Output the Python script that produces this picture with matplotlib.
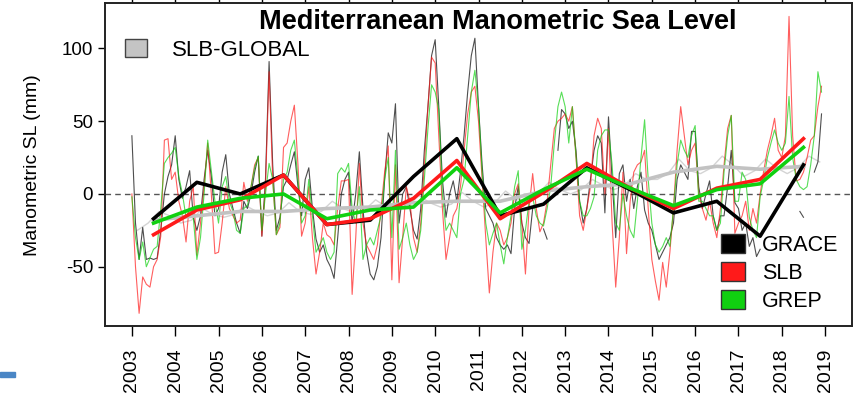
import numpy as np
import matplotlib
matplotlib.use("Agg")
import matplotlib.pyplot as plt
import matplotlib.patches as mpatches

plt.rcParams['font.family'] = ['Liberation Sans', 'DejaVu Sans']
plt.rcParams['axes.unicode_minus'] = False

nan = np.nan

# monthly anomalies (mm), Jan 2003 .. Dec 2018, one row per year
grace_monthly = [
    40, -20, -45, -23, -45, -44, -45, -44, -25, 0, 12, 20,
    40, 10, -3, 5, 16, -16, -25, -15, 10, 30, 12, -15,
    -10, 15, 27, 0, -10, -20, -27, -5, -10, 0, 15, 26,
    -29, 10, 91, 20, -25, -16, 5, 10, 20, 29, 5, -15,
    10, 18, -10, -31, -40, -35, -45, -50, -58, -30, 0, 10,
    15, -20, 0, 29, -10, -40, -55, -59, -50, -30, 10, 42,
    35, 62, -20, 0, 5, -10, -25, -31, -10, 30, 60, 95,
    106, 60, 10, -16, 0, 9, -5, 15, 40, 70, 95, 107,
    60, 20, -10, -15, -20, -30, -35, -38, -35, -41, -10, 5,
    -20, -30, -34, -10, nan, nan, -24, -31, nan, nan, 30, 58,
    55, 45, 50, 30, -5, -20, -10, 10, 30, 40, 35, -13,
    53, 10, -30, 14, 20, -5, 10, -10, 5, 15, -11, -20,
    -25, -35, -45, -40, -35, -30, -20, 10, 20, 15, 10, 43,
    43, 5, -10, 0, 9, -15, -25, -15, -15, 5, 30, -6,
    -10, -25, -20, -36, -30, -43, -38, nan, nan, nan, nan, nan,
    nan, nan, nan, nan, nan, -12, -16, nan, nan, 15, 22, 55,
]

slb_monthly = [
    0, -50, -82, -57, -62, -64, -50, -45, -29, 37, 38, 10,
    15, -5, -15, -33, -5, 5, -42, -20, 5, 35, 0, -41,
    -40, -20, 5, -10, -15, -20, -18, 8, -5, 5, 20, 25,
    -29, 5, 84, 10, -28, -23, 32, 35, 50, 61, 20, -29,
    -20, 5, -30, -55, -40, -20, -28, -30, -35, -10, 9, 9,
    10, -69, -30, 21, -20, -35, -40, -45, -35, -10, 15, 33,
    -59, 20, -61, -30, 5, -5, -30, -40, -20, 20, 60, 94,
    90, 40, -10, -45, -30, -15, -10, 5, 30, 55, 70, 74,
    50, 10, -30, -68, -40, -20, -25, -35, -30, -20, 0, 7,
    -20, -55, -10, 14, -10, -26, -20, -5, 20, 45, 50, 52,
    55, 50, 60, 25, -15, -25, -10, 5, 40, 52, 45, 0,
    45, -20, -64, -30, 15, -41, -5, 15, 20, 22, 30, -10,
    -45, -60, -73, -47, -64, -40, -10, 30, 60, 40, 20, 30,
    35, 0, -10, -18, -5, -20, -30, -10, 20, 45, 54, -27,
    -20, -15, -5, -25, -10, -20, 0, 16, 30, 40, 52, 30,
    25, 40, 122, 40, 9, 10, 15, 25, 37, 40, 60, 74,
]

grep_monthly = [
    -2, -30, -45, -33, -50, -44, -38, -36, -10, 21, 25, 28,
    32, 12, 0, -16, -10, -16, -45, -30, 0, 37, 16, -5,
    -20, 5, 12, -5, -12, -25, -27, -10, -8, 5, 18, 26,
    -25, 0, 21, 10, -28, -20, 10, 15, 30, 37, 10, -20,
    -15, 10, -15, -40, -35, -30, -40, -45, -40, 14, 18, 15,
    21, -10, -20, 5, -45, -35, -30, -35, -25, -15, 10, 25,
    -30, 30, -38, -30, -20, -35, -45, -40, -25, 10, 45, 75,
    70, 58, 0, -25, -20, -25, -30, 0, 10, 40, 70, 85,
    60, 15, -20, -35, -27, -20, -35, -48, -30, -15, 5, 16,
    -38, -25, -5, -2, -15, -20, -22, -10, 5, 35, 60, 70,
    60, 35, 60, 26, -5, -15, -15, -10, -2, 30, 40, 44,
    44, 20, -20, -25, 0, -15, -25, -30, -5, 25, 51, 10,
    -20, -35, -40, -36, -30, -36, -10, 20, 37, 30, 25, 40,
    47, -5, -5, -10, -15, -15, -25, -20, 15, 40, 54, -5,
    -5, 15, 10, -16, -25, -30, -2, 10, 25, 35, 44, 35,
    30, 35, 67, 25, 10, 5, 3, 5, 20, 40, 84, 70,
]

# quarterly global mean, 2003 .. 2018
global_quarterly = [
    -25, -20, -12, -15, -20, -18, -10, -14, -16, -14, -8, -12,
    -15, -13, -6, -12, -14, -12, -5, -10, -13, -11, -4, -9,
    -10, -8, -1, -6, -9, -7, 1, -5, -9, -6, 2, -4,
    -4, 0, 8, 3, 0, 3, 10, 6, 3, 6, 14, 10,
    10, 14, 24, 16, 14, 18, 26, 20, 12, 16, 24, 18,
    14, 18, 26, 22,
]

# annual means (mid-year)
years = list(range(2003, 2019))
grace_annual = [-17, 8, 0, 13, -21, -18, 12, 38, -15, -7, 18, 3, -13, -5, -29, 20]
slb_annual = [-28, -11, -4, 13, -21, -17, -3, 23, -17, 1, 21, 4, -10, 4, 10, 38]
grep_annual = [-20, -9, -3, 0, -17, -11, -9, 18, -13, 3, 17, 4, -8, 3, 7, 32]
global_annual = [-18, -15, -12, -12, -10, -9, -6, -5, -5, 2, 5, 7, 15, 19, 17, 19]

t_month = 2003 + np.arange(len(slb_monthly)) / 12.0
t_quarter = 2003.125 + np.arange(len(global_quarterly)) * 0.25
t_year = np.array(years) + 0.5

fig = plt.figure(figsize=(8.58, 3.99), dpi=100)
ax = fig.add_axes([0.1224, 0.183, 0.8706, 0.8087])

RED = '#ff1a1a'
GREEN = '#10d010'

ax.axhline(0, color='#555555', lw=1.0, ls=(0, (4, 3)), zorder=1)

ax.plot(t_quarter, global_quarterly, color='#d4d4d4', lw=1.0, zorder=2)
ax.plot(t_month, grace_monthly, color='#222222', lw=0.8, alpha=0.8, zorder=3)
ax.plot(t_month, slb_monthly, color=RED, lw=0.8, alpha=0.7, zorder=3)
ax.plot(t_month, grep_monthly, color=GREEN, lw=0.8, alpha=0.7, zorder=3)

ax.plot(t_year, global_annual, color='#c2c2c2', lw=2.6, zorder=4)
ax.plot(t_year, grace_annual, color='black', lw=2.6, zorder=5)
ax.plot(t_year, slb_annual, color=RED, lw=2.6, zorder=6)
ax.plot(t_year, grep_annual, color=GREEN, lw=2.6, zorder=7)

ax.set_xlim(2002.38, 2019.62)
ax.set_ylim(-90.7, 131)
ax.set_xticks(years + [2019])
ax.set_xticklabels([str(y) for y in years + [2019]], rotation=90, fontsize=14)
ax.set_yticks([-50, 0, 50, 100])
ax.tick_params(axis='y', labelsize=13.5, direction='out', length=5, width=1)
ax.tick_params(axis='x', direction='out', length=7, width=1, top=True, pad=9)
for s in ax.spines.values():
    s.set_linewidth(1.4)
    s.set_color('#222222')

ax.set_ylabel('Manometric SL (mm)', fontsize=14, labelpad=15)
ax.text(0.526, 0.943, 'Mediterranean Manometric Sea Level', transform=ax.transAxes,
        ha='center', va='center', fontsize=19.5, fontweight='bold')

h_glob = [mpatches.Patch(facecolor='#c4c4c4', edgecolor='#444444', label='SLB-GLOBAL')]
leg1 = ax.legend(handles=h_glob, loc='upper left', bbox_to_anchor=(0.012, 0.925),
                 frameon=False, fontsize=16, borderpad=0, handlelength=1.0,
                 handleheight=0.9, handletextpad=1.1)
ax.add_artist(leg1)

h_main = [mpatches.Patch(facecolor='black', edgecolor='#333333', label='GRACE'),
          mpatches.Patch(facecolor=RED, edgecolor='#333333', label='SLB'),
          mpatches.Patch(facecolor=GREEN, edgecolor='#333333', label='GREP')]
ax.legend(handles=h_main, loc='lower left', bbox_to_anchor=(0.81, 0.01),
          frameon=False, fontsize=15.5, borderpad=0, handlelength=1.1,
          handleheight=1.0, handletextpad=0.8, labelspacing=0.28)

fig.add_artist(mpatches.Rectangle((0, 1 - 377 / 399), 15 / 858, 5 / 399,
                                  transform=fig.transFigure, color='#4a86c5'))

fig.savefig('out.png', dpi=100)
